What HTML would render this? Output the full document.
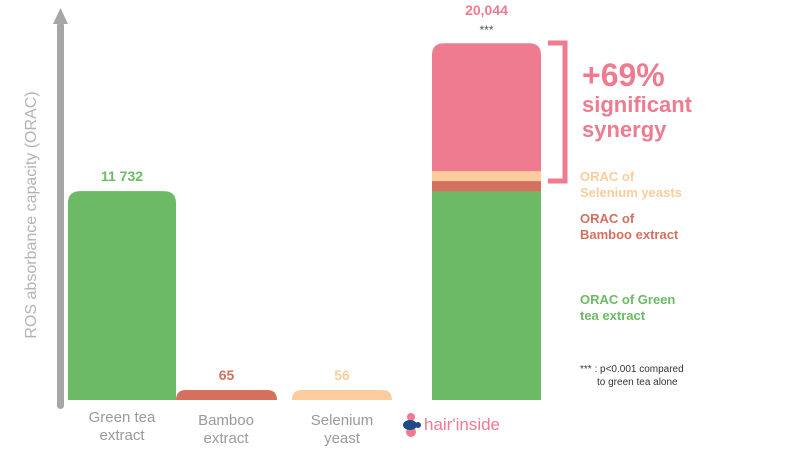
<!DOCTYPE html>
<html><head><meta charset="utf-8"><style>
body{margin:0;background:#fff;}
svg text{font-family:"Liberation Sans",sans-serif;}
</style></head><body>
<svg width="800" height="468" viewBox="0 0 800 468">
<g>
<rect x="57" y="22" width="7" height="387" rx="3.5" fill="#a6a6a6"/>
<polygon points="53,24 60.5,8 68,24" fill="#a6a6a6"/>
<text transform="translate(36,215) rotate(-90)" text-anchor="middle" font-size="16" fill="#b3b3b3">ROS absorbance capacity (ORAC)</text>
</g>
<g id="bars"></g>
<g>
<path d="M548,43 H565 V181 H548" fill="none" stroke="#ee7b90" stroke-width="5"/>
<text x="582" y="86" font-size="32" font-weight="bold" fill="#ee7b90">+69%</text>
<text x="582" y="112" font-size="22" font-weight="bold" fill="#ee7b90">significant</text>
<text x="582" y="137" font-size="22" font-weight="bold" fill="#ee7b90">synergy</text>
</g>
<g font-size="13" font-weight="bold">
<text x="580" y="181" fill="#fdcc9d"><tspan x="580">ORAC of</tspan><tspan x="580" dy="16">Selenium yeasts</tspan></text>
<text x="580" y="223" fill="#d5705f"><tspan x="580">ORAC of</tspan><tspan x="580" dy="16">Bamboo extract</tspan></text>
<text x="580" y="304" fill="#6cba66"><tspan x="580">ORAC of Green</tspan><tspan x="580" dy="16">tea extract</tspan></text>
</g>
<text font-size="10" fill="#333"><tspan x="580" y="372">*** : p&lt;0.001 compared</tspan><tspan x="597" dy="13">to green tea alone</tspan></text>
<g font-size="15" fill="#9a9a9a" text-anchor="middle">
<text x="122" y="422"><tspan x="122">Green tea</tspan><tspan x="122" dy="18">extract</tspan></text>
<text x="226" y="425"><tspan x="226">Bamboo</tspan><tspan x="226" dy="18">extract</tspan></text>
<text x="342" y="425"><tspan x="342">Selenium</tspan><tspan x="342" dy="18">yeast</tspan></text>
</g>
<g>
<circle cx="411" cy="417" r="4" fill="#ee7b90"/><circle cx="411" cy="432" r="5" fill="#ee7b90"/>
<ellipse cx="410" cy="425" rx="7" ry="5" fill="#1d4a8a"/><circle cx="418" cy="425" r="3" fill="#1d4a8a"/>
<text x="424" y="430" font-size="17" fill="#ee7b90">hair'inside</text>
</g>
</svg>
<script>
const categories=["Green tea extract","Bamboo extract","Selenium yeast","Combination"];
const values=[11732,65,56,20044];
const valueLabels=["11 732","65","56","20,044"];
const stackValues=[11732,65,56];
{
const colors=["#6cba66","#d5705f","#fdcc9d","#ee7b90"];
const baseY=400,k=0.0178,minH=10;
const yScale=v=>baseY-v*k;
const hScale=v=>Math.max(minH,v*k);
const xs=[68,176,292,432],ws=[108,101,100,109];
const ns="http://www.w3.org/2000/svg";
const g=document.getElementById('bars');
const rr=(x0,t0,w,hh,r,fill)=>{const p=document.createElementNS(ns,'path');
p.setAttribute('d',`M${x0},${t0+hh} V${t0+r} Q${x0},${t0} ${x0+r},${t0} H${x0+w-r} Q${x0+w},${t0} ${x0+w},${t0+r} V${t0+hh} Z`);
p.setAttribute('fill',fill);return p;};
for(let i=0;i<3;i++){
const hh=hScale(values[i]);const r=Math.min(12,hh);
const b=rr(xs[i],baseY-hh,ws[i],hh,r,colors[i]);


g.appendChild(b);
const lbl=document.createElementNS(ns,'text');


lbl.setAttribute('x',xs[i]+ws[i]/2);lbl.setAttribute('y',baseY-hh-10);
lbl.setAttribute('text-anchor','middle');lbl.setAttribute('font-size','14');lbl.setAttribute('font-weight','bold');
lbl.setAttribute('fill',colors[i]);lbl.textContent=valueLabels[i];g.appendChild(lbl);}
const cx=xs[3],cw=ws[3];
const totalTop=yScale(values[3]);
const synBar=rr(cx,totalTop,cw,baseY-totalTop,12,colors[3]);


g.appendChild(synBar);
let cur=baseY;
for(let i=0;i<3;i++){const hh=hScale(stackValues[i]);
const r=document.createElementNS(ns,'rect');


r.setAttribute('x',cx);r.setAttribute('y',cur-hh);r.setAttribute('width',cw);r.setAttribute('height',hh);
r.setAttribute('fill',colors[i]);g.appendChild(r);cur-=hh;}
const cl=document.createElementNS(ns,'text');


cl.setAttribute('x',cx+cw/2);cl.setAttribute('y',totalTop-28);cl.setAttribute('text-anchor','middle');
cl.setAttribute('font-size','14');cl.setAttribute('font-weight','bold');cl.setAttribute('fill',colors[3]);
cl.textContent=valueLabels[3];g.appendChild(cl);
const st=document.createElementNS(ns,'text');


st.setAttribute('x',cx+cw/2);st.setAttribute('y',totalTop-9);st.setAttribute('text-anchor','middle');
st.setAttribute('font-size','12');st.setAttribute('fill','#555');st.textContent='***';g.appendChild(st);
}
</script>
</body></html>
